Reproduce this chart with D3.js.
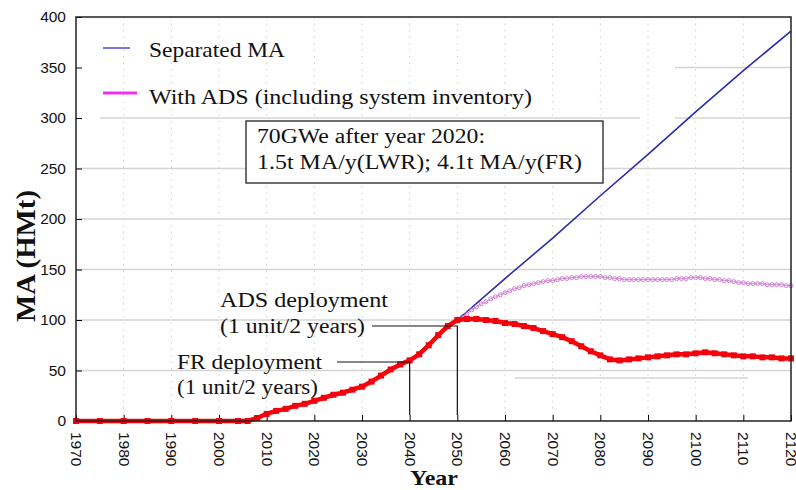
<!DOCTYPE html>
<html lang="en">
<head>
<meta charset="UTF-8">
<title>MA inventory</title>
<script src="https://d3js.org/d3.v7.min.js"></script>
<style>
  body { margin: 0; background: #fff; }
  svg { display: block; }
  .tick-label { font-family: "Liberation Sans", Arial, sans-serif; font-size: 15.5px; fill: #111; }
  .serif { font-family: "Liberation Serif", "Times New Roman", serif; fill: #111; }
</style>
</head>
<body>
<svg width="796" height="490"></svg>
<script>
// ---- data ----
const yTicks = [0, 50, 100, 150, 200, 250, 300, 350, 400];
const xTicks = [1970, 1980, 1990, 2000, 2010, 2020, 2030, 2040, 2050, 2060, 2070, 2080, 2090, 2100, 2110, 2120];

// red thick curve: with ADS, MA outside system
const redYears = [1970, 1975, 1980, 1985, 1990, 1995, 2000, 2004, 2006, 2008, 2010, 2012, 2014, 2016, 2018, 2020,
  2022, 2024, 2026, 2028, 2030, 2032, 2034, 2036, 2038, 2040, 2042, 2044, 2046, 2048, 2050,
  2052, 2054, 2056, 2058, 2060, 2062, 2064, 2066, 2068, 2070, 2072, 2074, 2076, 2078, 2080,
  2082, 2084, 2086, 2088, 2090, 2092, 2094, 2096, 2098, 2100, 2102, 2104, 2106, 2108, 2110,
  2112, 2114, 2116, 2118, 2120];
const redValues = [0, 0, 0, 0, 0, 0, 0, 0, 0, 3, 7, 10, 12, 15, 17, 20,
  23, 26, 28, 31, 34, 39, 45, 51, 56, 60, 66, 75, 85, 94, 100,
  101, 101, 100, 99, 97, 96, 94, 92, 89, 86, 83, 79, 74, 69, 65,
  61, 60, 61, 62, 63, 64, 65, 66, 66, 67, 68, 67, 66, 65, 64,
  64, 63, 63, 62, 62];

// blue: separated MA
const blueYears = [1970, 2006, 2010, 2020, 2030, 2040, 2050, 2060, 2070, 2080, 2090, 2100, 2110, 2120];
const blueValues = [0, 0, 7, 20, 34, 60, 100, 141, 181, 223, 264, 306, 347, 386];

// magenta: with ADS including system inventory (one point a year, 2050-2120)
const magYears = d3.range(2050, 2121);
const magValues = [100, 103, 106, 110, 113, 116, 118, 121, 123, 125,
  127, 129, 131, 132, 134, 135, 136, 137, 138, 139,
  139, 140, 141, 141, 142, 142, 143, 143, 143, 143,
  143, 142, 142, 141, 141, 140, 140, 140, 140, 140,
  140, 140, 140, 140, 140, 140, 141, 141, 141, 142,
  142, 142, 141, 141, 140, 140, 139, 139, 138, 137,
  137, 136, 136, 136, 136, 135, 135, 135, 135, 134,
  134];

const legendLabels = ["Separated MA", "With ADS (including system inventory)"];
const noteLines = ["70GWe after year 2020:", "1.5t MA/y(LWR); 4.1t MA/y(FR)"];
const adsLabel = ["ADS deployment", "(1 unit/2 years)"];
const frLabel = ["FR deployment", "(1 unit/2 years)"];
const adsYear = 2050, frYear = 2040;

// ---- layout ----
const svg = d3.select("svg");
const W = 796, H = 490;
const m = { left: 76, right: 5, top: 17, bottom: 69 };
const x = d3.scaleLinear().domain([1970, 2120]).range([m.left, W - m.right]);
const y = d3.scaleLinear().domain([0, 400]).range([H - m.bottom, m.top]);

const zip = (xs, ys) => xs.map((v, i) => [v, ys[i]]);
const line = d3.line().x(d => x(d[0])).y(d => y(d[1]));

// text helper: stretched to the widths seen in the original
function label(t, tx, ty, size, len, weight) {
  return svg.append("text").attr("class", "serif").attr("x", tx).attr("y", ty)
    .attr("font-size", size).attr("font-weight", weight || null)
    .attr("textLength", len).attr("lengthAdjust", "spacingAndGlyphs").text(t);
}

// horizontal gridlines
svg.append("g").selectAll("line").data(yTicks.slice(1, -1)).join("line")
  .attr("x1", x(1970)).attr("x2", x(2120))
  .attr("y1", d => y(d)).attr("y2", d => y(d))
  .attr("stroke", "#d4d4d4").attr("stroke-width", 1.5);

// stray gray rule under the curves
svg.append("line").attr("x1", 515).attr("x2", 748).attr("y1", 378).attr("y2", 378)
  .attr("stroke", "#d4d4d4").attr("stroke-width", 1.5);

// white legend backdrop (hides gridlines like the original)
svg.append("rect").attr("x", 77).attr("y", 18).attr("width", 598).attr("height", 94).attr("fill", "#fff");
svg.append("rect").attr("x", 77).attr("y", 110).attr("width", 23).attr("height", 14).attr("fill", "#fff");
svg.append("rect").attr("x", 640).attr("y", 110).attr("width", 35).attr("height", 14).attr("fill", "#fff");

// vertical dotted gridlines
svg.append("g").selectAll("line").data(xTicks.slice(1, -1)).join("line")
  .attr("x1", d => x(d)).attr("x2", d => x(d))
  .attr("y1", y(400)).attr("y2", y(0))
  .attr("stroke", "#cfcfcf").attr("stroke-width", 1).attr("stroke-dasharray", "1.5,5");

// axis ticks (inward)
const yAxis = d3.axisLeft(y).tickValues(yTicks).tickSizeInner(-6).tickSizeOuter(0).tickPadding(10);
const gy = svg.append("g").attr("transform", `translate(${m.left},0)`).call(yAxis);
gy.select(".domain").remove();
gy.selectAll("text").attr("class", "tick-label").attr("font-family", null).attr("font-size", null);

const xAxis = d3.axisBottom(x).tickValues(xTicks).tickSizeInner(-6).tickSizeOuter(0).tickFormat(d3.format("d"));
const gx = svg.append("g").attr("transform", `translate(0,${y(0)})`).call(xAxis);
gx.select(".domain").remove();
gx.selectAll("text").attr("class", "tick-label").attr("font-family", null).attr("font-size", null)
  .attr("transform", "rotate(90)").attr("x", 11).attr("y", 0).attr("dy", "0.35em")
  .attr("text-anchor", "start");

// series: blue
svg.append("path").datum(zip(blueYears, blueValues)).attr("d", line)
  .attr("fill", "none").attr("stroke", "#2b2bb0").attr("stroke-width", 1.6);

// series: magenta with small circles
const magData = zip(magYears, magValues);
svg.append("path").datum(magData).attr("d", line)
  .attr("fill", "none").attr("stroke", "#d68ad6").attr("stroke-width", 1);
svg.append("g").selectAll("circle").data(magData).join("circle")
  .attr("cx", d => x(d[0])).attr("cy", d => y(d[1])).attr("r", 2)
  .attr("fill", "none").attr("stroke", "#c975cf").attr("stroke-width", 0.9);

// series: red thick with squares
const redData = zip(redYears, redValues);
svg.append("path").datum(redData).attr("d", line)
  .attr("fill", "none").attr("stroke", "#ff0000").attr("stroke-width", 4.5);
svg.append("g").selectAll("rect").data(redData).join("rect")
  .attr("x", d => x(d[0]) - 3).attr("y", d => y(d[1]) - 3).attr("width", 6).attr("height", 6)
  .attr("fill", "#f00010");

// frame
svg.append("rect").attr("x", m.left).attr("y", m.top)
  .attr("width", W - m.left - m.right).attr("height", H - m.top - m.bottom)
  .attr("fill", "none").attr("stroke", "#222").attr("stroke-width", 1.5);

// legend
const legColors = ["#4a4ae0", "#ee33ee"];
const legLen = [27, 34];
const legText = [136, 383];
legendLabels.forEach((t, i) => {
  const ly = 48 + i * 45;
  svg.append("line").attr("x1", 103).attr("x2", 103 + legLen[i]).attr("y1", ly).attr("y2", ly)
    .attr("stroke", legColors[i]).attr("stroke-width", i ? 3 : 1.5);
  label(t, 149, 57 + i * 47, 21.5, legText[i]);
});

// note box
svg.append("rect").attr("x", 246).attr("y", 121).attr("width", 357).attr("height", 62)
  .attr("fill", "#fff").attr("stroke", "#222").attr("stroke-width", 1.3);
const noteLen = [228, 325];
noteLines.forEach((t, i) => label(t, 257, 143 + i * 26, 20, noteLen[i]));

// deployment annotations
function annotate(lines, tx, ty, gap, lens, lx1, ly, year) {
  lines.forEach((t, i) => label(t, tx, ty + i * gap, 20.5, lens[i]));
  svg.append("path")
    .attr("d", `M${lx1},${ly}H${x(year)}V${y(0) - 6}`)
    .attr("fill", "none").attr("stroke", "#111").attr("stroke-width", 1.2);
}
annotate(adsLabel, 220, 307, 26, [168, 145], 372, 326, adsYear);
annotate(frLabel, 177, 369, 25, [145, 141], 337, 362, frYear);

// axis titles
svg.append("text").attr("class", "serif").attr("transform", "translate(35,322) rotate(-90)")
  .attr("font-size", 28).attr("font-weight", "bold")
  .attr("textLength", 132).attr("lengthAdjust", "spacingAndGlyphs").text("MA (HMt)");
label("Year", 410, 485, 21, 48, "bold");
</script>
</body>
</html>
